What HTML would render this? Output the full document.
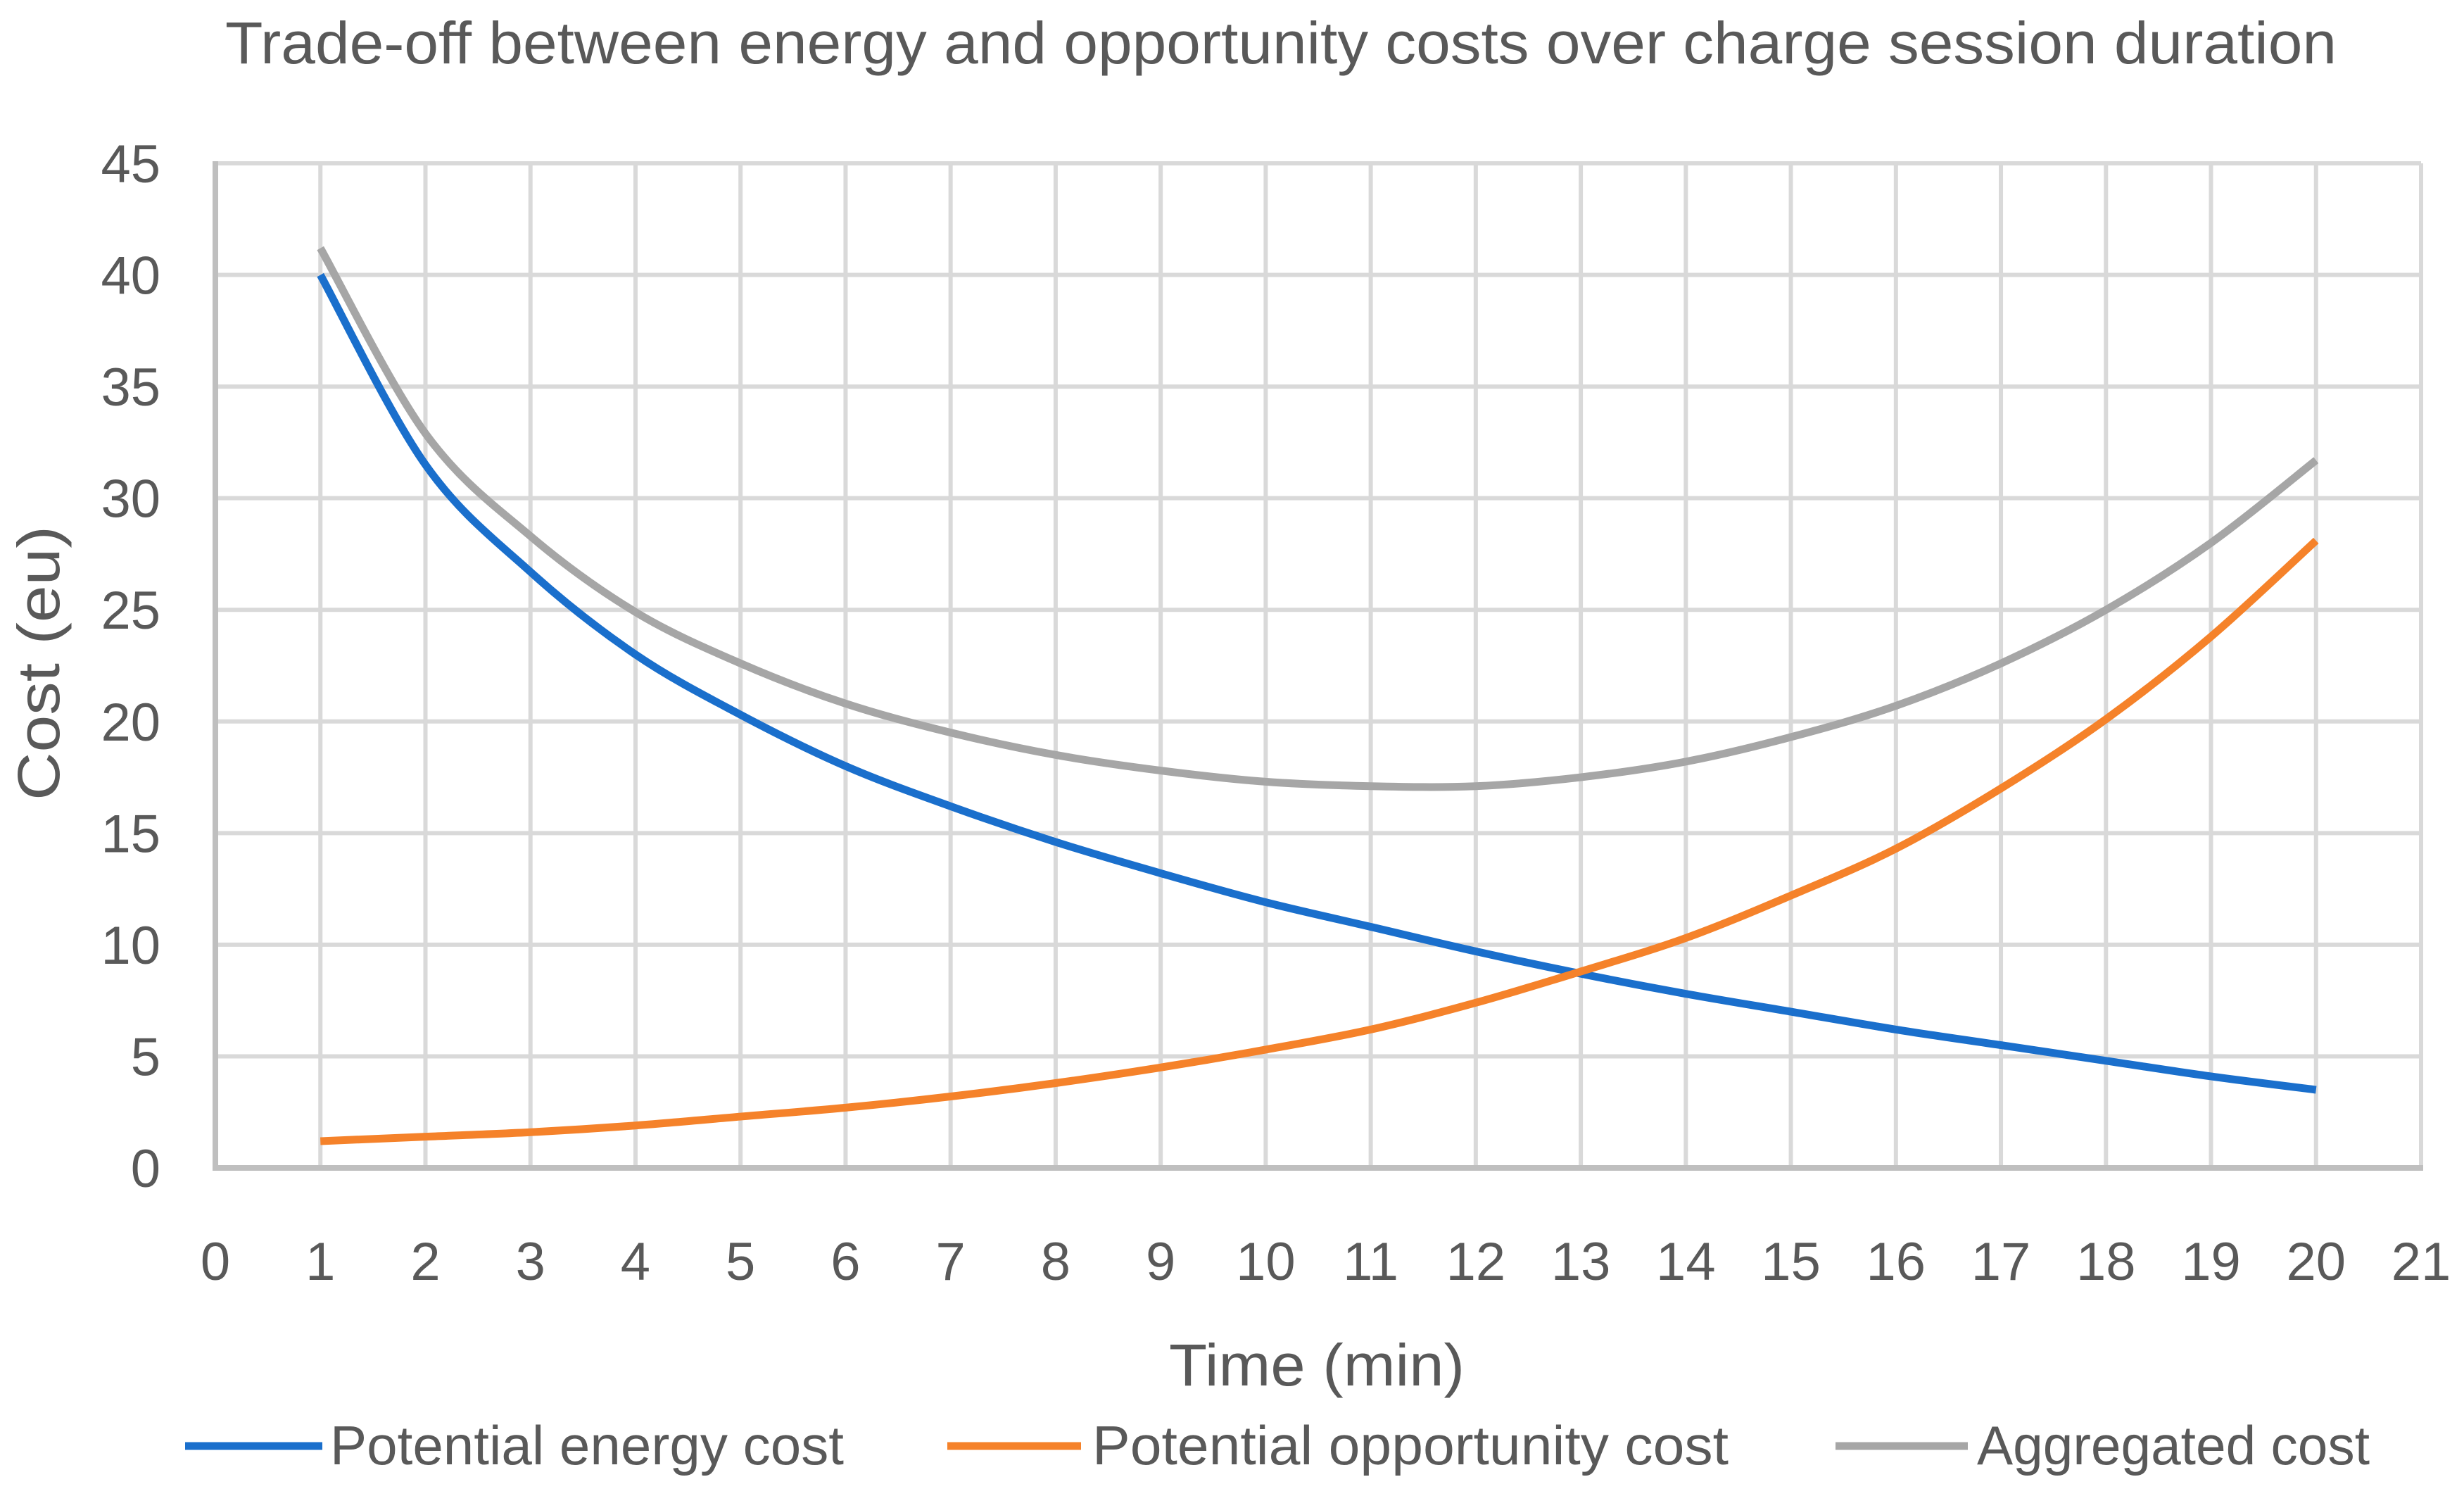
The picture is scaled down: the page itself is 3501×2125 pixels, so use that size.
<!DOCTYPE html>
<html><head><meta charset="utf-8"><style>
html,body{margin:0;padding:0;background:#fff;}
svg{display:block;font-family:"Liberation Sans",sans-serif;}
</style></head><body>
<svg id="chart" width="3501" height="2125" viewBox="0 0 3501 2125" xmlns="http://www.w3.org/2000/svg">
<rect width="3501" height="2125" fill="#fff"/>
<text x="1820" y="90" text-anchor="middle" font-size="84" fill="#595959" textLength="3000" lengthAdjust="spacingAndGlyphs">Trade-off between energy and opportunity costs over charge session duration</text>
<g id="grid"></g>
<g id="axes"></g>
<g id="series"></g>
<text transform="translate(84,942) rotate(-90)" text-anchor="middle" font-size="84" fill="#595959" textLength="390" lengthAdjust="spacingAndGlyphs">Cost (eu)</text>
<text x="1871" y="1968" text-anchor="middle" font-size="84" fill="#595959" textLength="420" lengthAdjust="spacingAndGlyphs">Time (min)</text>
<g>
<g>
<line x1="263" y1="2054" x2="458" y2="2054" stroke="#1a6fcc" stroke-width="11"/>
<text x="469" y="2080" font-size="78" fill="#595959" textLength="730" lengthAdjust="spacingAndGlyphs">Potential energy cost</text></g>
<g>
<line x1="1346" y1="2054" x2="1536" y2="2054" stroke="#f5822a" stroke-width="11"/>
<text x="1552" y="2080" font-size="78" fill="#595959" textLength="904" lengthAdjust="spacingAndGlyphs">Potential opportunity cost</text></g>
<g>
<line x1="2608" y1="2054" x2="2796" y2="2054" stroke="#a6a6a6" stroke-width="11"/>
<text x="2809" y="2080" font-size="78" fill="#595959" textLength="558" lengthAdjust="spacingAndGlyphs">Aggregated cost</text></g>
</g>
</svg>
<script>
const times = [1,2,3,4,5,6,7,8,9,10,11,12,13,14,15,16,17,18,19,20];
const energyCost = [40,31.5,26.7,23,20.3,18,16.2,14.6,13.2,11.9,10.8,9.7,8.7,7.8,7,6.2,5.5,4.8,4.1,3.5];
const opportunityCost = [1.2,1.4,1.6,1.9,2.3,2.7,3.2,3.8,4.5,5.3,6.2,7.4,8.8,10.3,12.2,14.3,17,20.1,23.8,28.1];
const aggregatedCost = [41.2,32.9,28.3,24.9,22.6,20.8,19.5,18.5,17.8,17.3,17.1,17.1,17.5,18.2,19.3,20.7,22.6,25.0,28.0,31.7];
const xTicks = [0,1,2,3,4,5,6,7,8,9,10,11,12,13,14,15,16,17,18,19,20,21];
const yTicks = [0,5,10,15,20,25,30,35,40,45];

const NS='http://www.w3.org/2000/svg';
const L=306,R=3440,T=232,B=1659,XMAX=21,YMAX=45;
const xs=v=>L+(R-L)*v/XMAX;
const ys=v=>B-(B-T)*v/YMAX;
function mk(tag,attrs,parent){const e=document.createElementNS(NS,tag);for(const k in attrs)e.setAttribute(k,attrs[k]);parent.appendChild(e);return e;}
const grid=document.getElementById('grid'),axes=document.getElementById('axes'),series=document.getElementById('series');
yTicks.forEach(v=>{
  if(v>0){const g=mk('line',{x1:L,x2:R,y1:ys(v),y2:ys(v),stroke:'#d9d9d9','stroke-width':6},grid);
  
  }
  const t=mk('text',{x:228,y:ys(v)+27,'text-anchor':'end','font-size':76,fill:'#595959'},axes);
  t.textContent=v;
  
  
});
xTicks.forEach(v=>{
  if(v>0){const g=mk('line',{x1:xs(v),x2:xs(v),y1:T,y2:B,stroke:'#d9d9d9','stroke-width':6},grid);
  
  }
  const t=mk('text',{x:xs(v),y:1818,'text-anchor':'middle','font-size':76,fill:'#595959'},axes);
  t.textContent=v;
  
  
});
const ya=mk('line',{x1:L,x2:L,y1:T-3,y2:B+4,stroke:'#bfbfbf','stroke-width':8},axes);


const xa=mk('line',{x1:L-4,x2:R+3,y1:B,y2:B,stroke:'#bfbfbf','stroke-width':8},axes);


function smooth(xv,yv){
  const p=xv.map((x,i)=>[xs(x),ys(yv[i])]);
  let d='M'+p[0][0]+','+p[0][1];
  for(let i=0;i<p.length-1;i++){
    const p0=p[i-1]||p[i],p1=p[i],p2=p[i+1],p3=p[i+2]||p2;
    const c1=[p1[0]+(p2[0]-p0[0])/6,p1[1]+(p2[1]-p0[1])/6];
    const c2=[p2[0]-(p3[0]-p1[0])/6,p2[1]-(p3[1]-p1[1])/6];
    d+=' C'+c1[0]+','+c1[1]+' '+c2[0]+','+c2[1]+' '+p2[0]+','+p2[1];
  }
  return d;
}
const e1=mk('path',{d:smooth(times,aggregatedCost),fill:'none',stroke:'#a6a6a6','stroke-width':11},series);


const e2=mk('path',{d:smooth(times,energyCost),fill:'none',stroke:'#1a6fcc','stroke-width':11},series);


const e3=mk('path',{d:smooth(times,opportunityCost),fill:'none',stroke:'#f5822a','stroke-width':11},series);


</script>
</body></html>
